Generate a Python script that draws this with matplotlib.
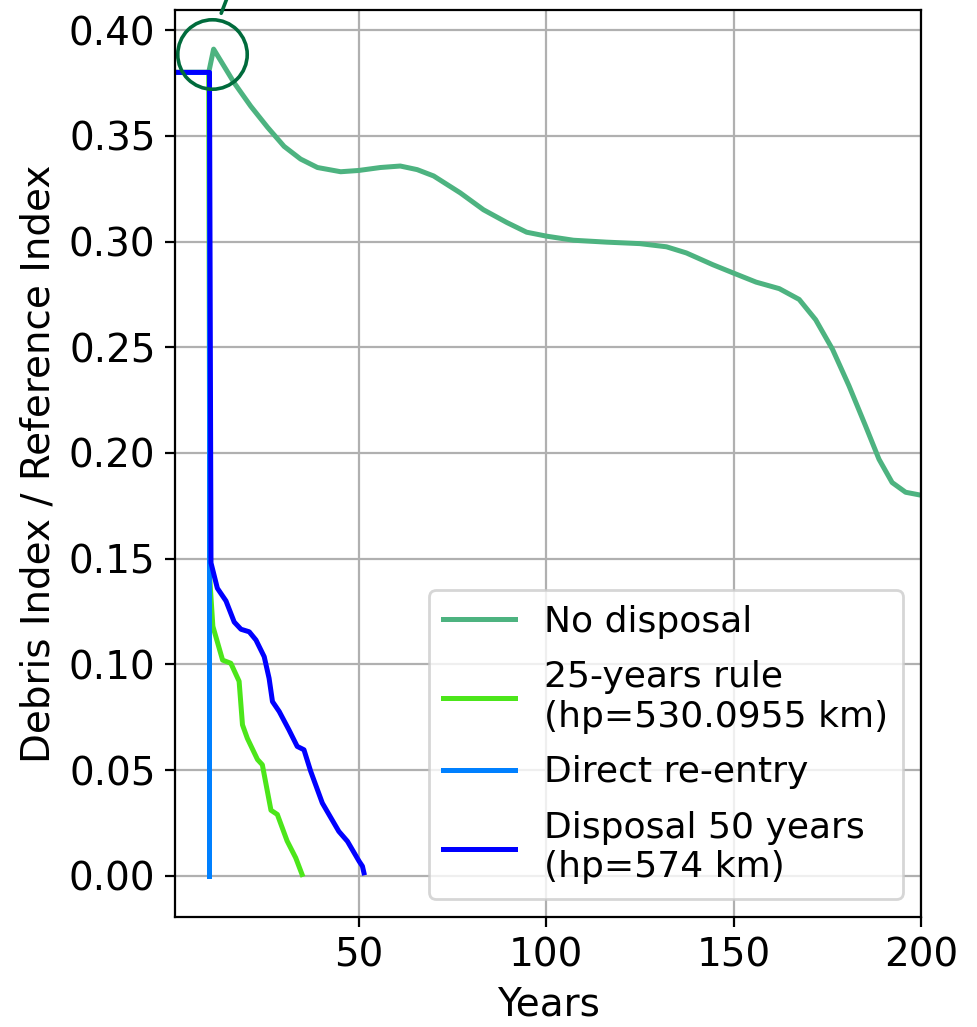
import matplotlib
matplotlib.use("Agg")
import matplotlib.pyplot as plt

plt.rcParams["font.size"] = 14

# no disposal
t_none = [1, 10, 11.3, 16.8, 21.2, 25.7, 30.1, 34.5, 39.0, 45.2, 50.0, 55.8, 61.1, 65.6, 70.0,
          77.1, 83.3, 89.5, 94.8, 100.2, 107.3, 116.1, 125.0, 132.1, 137.4, 144.5, 149.8,
          156.0, 162.2, 167.5, 171.9, 176.4, 180.8, 185.2, 188.8, 192.3, 195.9, 200]
di_none = [0.38, 0.38, 0.391, 0.375, 0.364, 0.354, 0.345, 0.339, 0.335, 0.333, 0.3336, 0.335,
           0.3357, 0.334, 0.331, 0.323, 0.315, 0.309, 0.3044, 0.3025, 0.3006, 0.2997, 0.299,
           0.2975, 0.2946, 0.289, 0.2852, 0.2808, 0.2777, 0.2726, 0.263, 0.249, 0.2317,
           0.2128, 0.197, 0.186, 0.1814, 0.180]

# 25-years rule
t_25 = [1, 10, 10.3, 11.1, 13.7, 15.9, 18.1, 19.0, 20.3, 23.0, 24.3, 26.6, 28.3, 30.9, 33.2, 34.9]
di_25 = [0.38, 0.38, 0.14, 0.118, 0.102, 0.1005, 0.092, 0.0714, 0.065, 0.055, 0.0525,
         0.031, 0.029, 0.0165, 0.0085, 0.0006]

# direct re-entry
t_direct = [1, 10, 10]
di_direct = [0.38, 0.38, 0.0]

# disposal 50 years
t_50 = [1, 10, 10.2, 10.6, 12.3, 14.6, 16.8, 18.6, 20.8, 22.6, 24.8, 26.1, 27.0, 28.8, 31.4,
        33.6, 35.4, 37.2, 40.3, 42.1, 44.7, 47.0, 50.1, 51.0, 51.4]
di_50 = [0.38, 0.38, 0.38, 0.148, 0.136, 0.130, 0.120, 0.1166, 0.1154, 0.1115, 0.1036, 0.0934,
         0.0824, 0.0777, 0.069, 0.0612, 0.0596, 0.0494, 0.0344, 0.0289, 0.021, 0.0163, 0.0069,
         0.0045, 0.0014]

fig = plt.figure(figsize=(9.77 / 2, 10.27 / 2), dpi=200)
ax = fig.add_axes([175 / 977, 1 - 917 / 1027, (921 - 175) / 977, (917 - 10) / 1027])

ax.plot(t_none, di_none, color="#4db380", lw=1.8, label="No disposal")
ax.plot(t_25, di_25, color="#4ce61a", lw=1.8, label="25-years rule\n(hp=530.0955 km)")
ax.plot(t_direct, di_direct, color="#0080ff", lw=1.8, label="Direct re-entry")
ax.plot(t_50, di_50, color="#0000ff", lw=1.8, label="Disposal 50 years\n(hp=574 km)")

# highlight of the peak
ax.plot([11], [0.3888], marker="o", ms=25, mfc="none", mec="#006b3c", mew=1.3, clip_on=False)
ax.annotate("", xy=(12.8, 0.4055), xytext=(15.5, 0.418), xycoords="data",
            arrowprops=dict(arrowstyle="-", color="#006b3c", lw=1.3),
            annotation_clip=False)

ax.set_xlim(1, 200)
ax.set_ylim(-0.0195, 0.4095)
ax.set_xticks([50, 100, 150, 200])
ax.set_yticks([0, 0.05, 0.1, 0.15, 0.2, 0.25, 0.3, 0.35, 0.4])
ax.grid(True)
ax.set_xlabel("Years")
ax.set_ylabel("Debris Index / Reference Index")
ax.legend(loc="lower right", fontsize=13, labelspacing=0.6)

fig.savefig("out.png", dpi=200)
